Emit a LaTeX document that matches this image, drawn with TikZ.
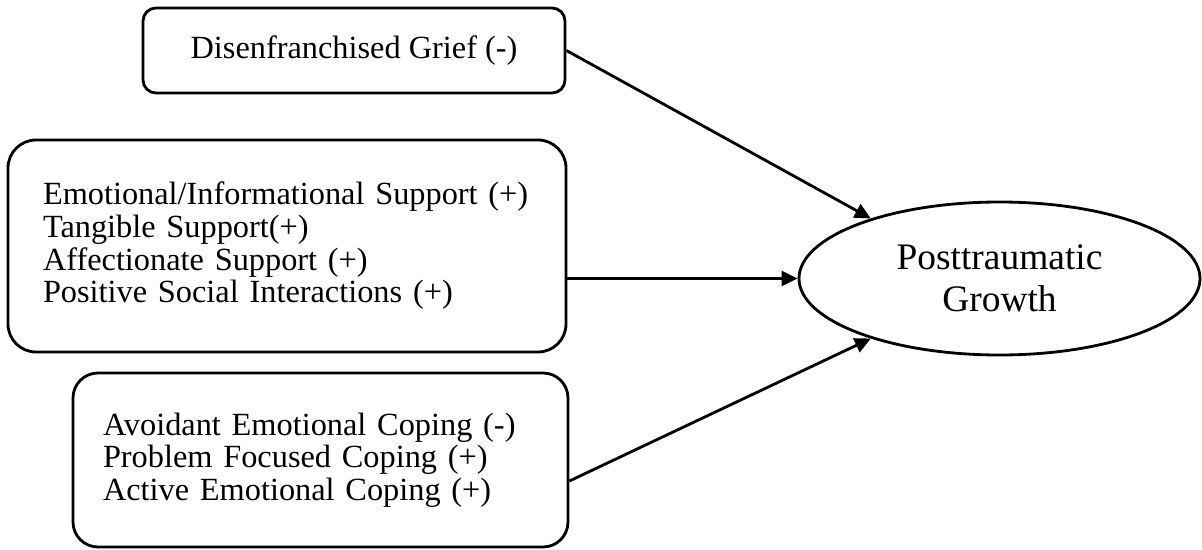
\documentclass[tikz,border=0pt]{standalone}
\usepackage{fontspec}
\setmainfont{Liberation Serif}
\usetikzlibrary{arrows.meta,positioning,shapes.geometric}

\begin{document}
\begin{tikzpicture}[>={Triangle[length=0.32cm,width=0.3cm]},line width=1.6pt,
  factorbox/.style={draw,rounded corners=#1,align=left,font=\fontsize{18.4}{18.6}\selectfont},
  outcome/.style={ellipse,draw,inner sep=0pt,align=center,font=\fontsize{21.3}{23.8}\selectfont}]
\useasboundingbox (0,0) rectangle (24.04,-11);

\node[factorbox=0.26cm,minimum width=8.44cm,minimum height=1.7cm,align=center] (grief) at (7.08,-1.01) {Disenfranchised Grief (-)};
\node[factorbox=0.56cm,text width=9.76cm,inner xsep=0.7cm,minimum height=4.24cm] (support) at (5.74,-4.92)
  {Emotional/Informational Support (+)\\ Tangible Support(+)\\ Affectionate Support (+)\\ Positive Social Interactions (+)};
\node[factorbox=0.5cm,text width=8.7cm,inner xsep=0.6cm,minimum height=3.48cm] (coping) at (6.41,-9.2)
  {Avoidant Emotional Coping (-)\\ Problem Focused Coping (+)\\ Active Emotional Coping (+)};

\node[outcome,minimum width=8.02cm,minimum height=3.06cm] (ptg) at (19.99,-5.57) {Posttraumatic\\ Growth};

\draw[->] (grief.east) -- (ptg.155);
\draw[->] (support.east |- ptg.west) -- (ptg.west);
\draw[->] ([yshift=-0.42cm]coping.east) -- (ptg.205);
\end{tikzpicture}
\end{document}
